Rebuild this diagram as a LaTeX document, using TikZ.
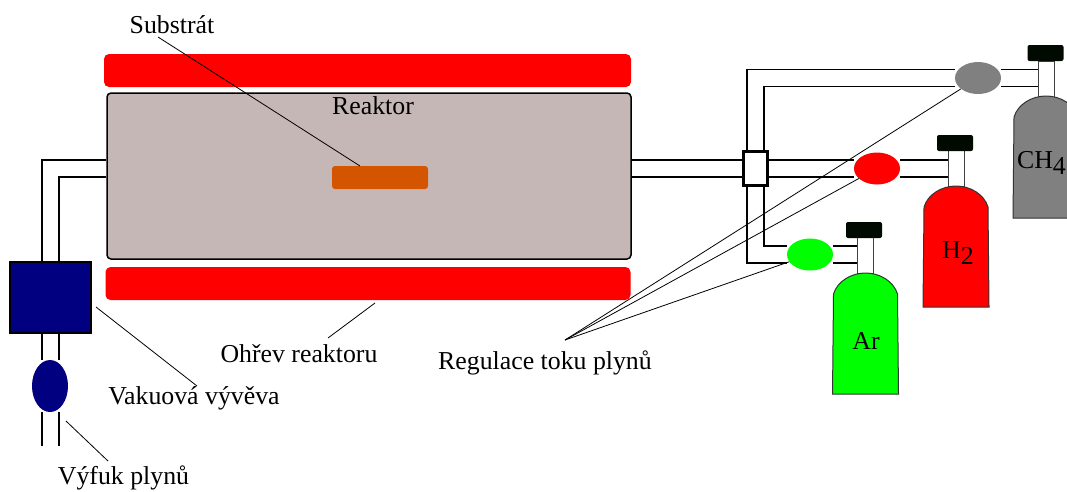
\documentclass[tikz,border=0pt]{standalone}
\usepackage{fontspec}
\setmainfont{Liberation Serif}
\usetikzlibrary{shapes.geometric, positioning}

\begin{document}
\begin{tikzpicture}[x=1pt, y=-1pt, inner sep=0pt, font=\fontsize{25.8}{30}\selectfont]
    \tikzstyle{heater} = [rectangle, fill=red, rounded corners=5pt, minimum width=527pt, minimum height=33pt]
    \tikzstyle{chamber} = [rectangle, draw, line width=1.5pt, fill=chambercol, rounded corners=4pt, minimum width=524pt, minimum height=166pt]
    \tikzstyle{valve} = [ellipse, minimum width=46pt, minimum height=32pt]
    \tikzstyle{capbox} = [rectangle, fill=capcol, rounded corners=2pt, minimum width=36pt, minimum height=16pt]
    \tikzstyle{neck} = [rectangle, draw=black!75, line width=1pt, fill=white, minimum width=16pt, minimum height=36pt]
    \tikzstyle{pipe} = [draw, line width=1.5pt, double=white, double distance=15.5pt]
    \tikzstyle{leader} = [draw, line width=0.8pt]
    \definecolor{chambercol}{HTML}{C6B7B7}
    \definecolor{capcol}{HTML}{000A00}
    \definecolor{pumpcol}{HTML}{000080}
    \definecolor{substratecol}{HTML}{D45500}

    \clip (0,0) rectangle (1067,491);

    \node [heater] (heattop) at (367.5,70.5) {};
    \node [chamber] (reactor) at (369,176) {};
    \node [heater, minimum width=525pt] (heatbot) at (368,283.5) {};
    \node [rectangle, fill=substratecol, rounded corners=3pt, minimum width=96pt, minimum height=23pt] (substrate) at (380,177.5) {};

    \node [rectangle, draw, line width=2.5pt, fill=white, minimum width=24pt, minimum height=34pt] (box) at (755.5,168.5) {};
    \node [rectangle, draw, line width=1.5pt, fill=pumpcol, minimum width=81pt, minimum height=71pt] (pump) at (50.5,297.5) {};
    \node [ellipse, fill=pumpcol, minimum width=36pt, minimum height=52pt] (pumpvalve) at (50,386) {};

    \node [valve, fill=gray] (valvech) at (978,78) {};
    \node [valve, fill=red] (valveh) at (877,168.5) {};
    \node [valve, fill=green] (valvear) at (810,254.5) {};

    \node [neck] (neckch) at (1046,79) {};
    \node [neck] (neckh) at (956,168.5) {};
    \node [neck] (neckar) at (865,255.5) {};
    \node [capbox] (capch) at (1045.5,53) {};
    \node [capbox] (caph) at (955,143) {};
    \node [capbox] (capar) at (864,230) {};

    \foreach \cx/\ctop/\cbot/\col in {1046/96/218/gray, 956/186/307/red, 865.5/273/394/green} {
        \draw [black!80, line width=1pt, fill=\col] (\cx-33,\cbot) -- (\cx-32,\ctop+21)
            .. controls (\cx-28,\ctop+8) and (\cx-14,\ctop) .. (\cx,\ctop)
            .. controls (\cx+14,\ctop) and (\cx+28,\ctop+8) .. (\cx+32,\ctop+21)
            -- (\cx+33,\cbot) -- cycle;
    }

    \coordinate (outlet) at (106,168.5);
    \coordinate (exhaust) at (50.5,446);
    \coordinate (apex) at (565,340);
    \coordinate (pumpend) at (96,307);
    \coordinate (exhaustend) at (66,421);
    \coordinate (heaterend) at (375,303);
    \coordinate (substrateend) at (360,166);

    \path [pipe] (reactor.east |- box) -- (box);
    \path [pipe] (box) -- (valveh);
    \path [pipe] (valveh) -- (neckh);
    \path [pipe] (box.north) |- (valvech);
    \path [pipe] (valvech) -- (valvech -| neckch.west);
    \path [pipe] (box.south) |- (valvear);
    \path [pipe] (valvear) -- (valvear -| neckar.west);
    \path [pipe] (outlet) -| (pump.north);
    \path [pipe] (pump.south) -- (pumpvalve.north -| pump.south);
    \path [pipe] (pumpvalve.south -| pump.south) -- (exhaust);

    \node (substrat) at (172,25) {Substrát};
    \node (reaktor) at (373,106) {Reaktor};
    \node (ohrev) at (299,354) {Ohřev reaktoru};
    \node (regulace) at (545,362.5) {Regulace toku plynů};
    \node (vyveva) at (194,398.5) {Vakuová vývěva};
    \node (vyfuk) at (123.5,477.5) {Výfuk plynů};
    \node (ar) at (866,341) {Ar};
    \node (h2) at (958,253) {H\raisebox{-6pt}{2}};
    \node [anchor=east] (ch4) at (1066,163) {CH\raisebox{-6pt}{4}};

    \path [leader] (158,37) coordinate (substratstart) -- (substrateend);
    \path [leader] (pumpend) -- (197,386) coordinate (vyvevastart);
    \path [leader] (exhaustend) -- (108,461) coordinate (vyfukstart);
    \path [leader] (heaterend) -- (328,338) coordinate (ohrevstart);
    \path [leader] (apex) -- (valvech);
    \path [leader] (apex) -- (valveh);
    \path [leader] (apex) -- (valvear);
\end{tikzpicture}
\end{document}
